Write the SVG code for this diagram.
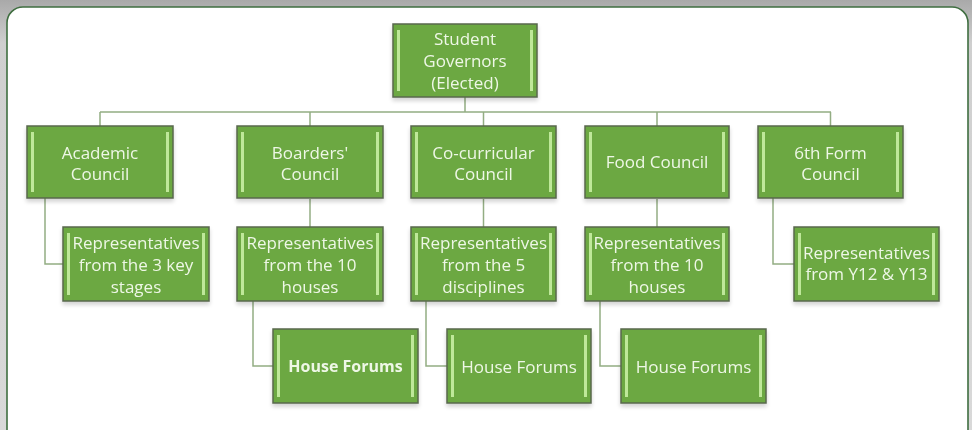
<svg xmlns="http://www.w3.org/2000/svg" width="972" height="430" viewBox="0 0 972 430">
<defs>
<linearGradient id="bg" x1="0" y1="0" x2="0" y2="1">
<stop offset="0" stop-color="#a9a9a9"/>
<stop offset="0.1" stop-color="#cfcfcf"/>
<stop offset="1" stop-color="#d9d9d9"/>
</linearGradient>
<filter id="sh" x="-10%" y="-10%" width="125%" height="130%">
<feGaussianBlur in="SourceAlpha" stdDeviation="2"/>
<feOffset dx="0" dy="3"/>
<feComponentTransfer><feFuncA type="linear" slope="0.18"/></feComponentTransfer>
<feMerge><feMergeNode/><feMergeNode in="SourceGraphic"/></feMerge>
</filter>
</defs>
<style>
.box{fill:#6ca842;stroke:#58684e;stroke-width:1.5}
.bar{fill:#bfe89a}
.t{font-family:"Open Sans","Liberation Sans",sans-serif;font-size:17px;fill:#eef7e6;text-anchor:middle}
.b{font-weight:bold;font-size:16px}
.c{fill:none;stroke:#93ad83;stroke-width:1.5}
</style>
<rect x="0" y="0" width="972" height="430" fill="url(#bg)"/>
<rect x="7" y="7" width="961" height="440" rx="16" ry="16" fill="#ffffff" stroke="#3f6e40" stroke-width="1.6"/>

<g id="connectors">
<path class="c" d="M465 97 V112 M100 112 H831 M100 112 V126 M310 112 V126 M483.5 112 V126 M657 112 V126 M830.5 112 V126"/>
<path class="c" d="M45 198 V264 H63"/>
<path class="c" d="M310 199 V227"/>
<path class="c" d="M483.5 199 V227"/>
<path class="c" d="M657 199 V227"/>
<path class="c" d="M773 198 V264 H794"/>
<path class="c" d="M253 301 V366 H273"/>
<path class="c" d="M426 301 V366 H447"/>
<path class="c" d="M600 301 V366 H621"/>
</g>

<g id="student-governors" filter="url(#sh)">
<rect class="box" x="393" y="24" width="144" height="73"/>
<rect class="bar" x="397" y="30" width="3" height="61"/>
<rect class="bar" x="530" y="30" width="3" height="61"/>
<text class="t" x="465" y="45">Student</text>
<text class="t" x="465" y="67">Governors</text>
<text class="t" x="465" y="89">(Elected)</text>
</g>

<g id="academic-council" filter="url(#sh)">
<rect class="box" x="27" y="126" width="146" height="72"/>
<rect class="bar" x="31" y="132" width="3" height="60"/>
<rect class="bar" x="166" y="132" width="3" height="60"/>
<text class="t" x="100" y="158.5">Academic</text>
<text class="t" x="100" y="179.5">Council</text>
</g>

<g id="boarders-council" filter="url(#sh)">
<rect class="box" x="237" y="126" width="146" height="72"/>
<rect class="bar" x="241" y="132" width="3" height="60"/>
<rect class="bar" x="376" y="132" width="3" height="60"/>
<text class="t" x="310" y="158.5">Boarders'</text>
<text class="t" x="310" y="179.5">Council</text>
</g>

<g id="cocurricular-council" filter="url(#sh)">
<rect class="box" x="411" y="126" width="145" height="72"/>
<rect class="bar" x="415" y="132" width="3" height="60"/>
<rect class="bar" x="549" y="132" width="3" height="60"/>
<text class="t" x="483.5" y="158.5">Co-curricular</text>
<text class="t" x="483.5" y="179.5">Council</text>
</g>

<g id="food-council" filter="url(#sh)">
<rect class="box" x="585" y="126" width="144" height="72"/>
<rect class="bar" x="589" y="132" width="3" height="60"/>
<rect class="bar" x="722" y="132" width="3" height="60"/>
<text class="t" x="657" y="168">Food Council</text>
</g>

<g id="sixth-form-council" filter="url(#sh)">
<rect class="box" x="758" y="126" width="145" height="72"/>
<rect class="bar" x="762" y="132" width="3" height="60"/>
<rect class="bar" x="896" y="132" width="3" height="60"/>
<text class="t" x="830.5" y="158.5">6th Form</text>
<text class="t" x="830.5" y="179.5">Council</text>
</g>

<g id="rep-academic" filter="url(#sh)">
<rect class="box" x="63" y="227" width="146" height="74"/>
<rect class="bar" x="67" y="233" width="3" height="62"/>
<rect class="bar" x="202" y="233" width="3" height="62"/>
<text class="t" x="136" y="249">Representatives</text>
<text class="t" x="136" y="271">from the 3 key</text>
<text class="t" x="136" y="293">stages</text>
</g>

<g id="rep-boarders" filter="url(#sh)">
<rect class="box" x="237" y="227" width="146" height="74"/>
<rect class="bar" x="241" y="233" width="3" height="62"/>
<rect class="bar" x="376" y="233" width="3" height="62"/>
<text class="t" x="310" y="249">Representatives</text>
<text class="t" x="310" y="271">from the 10</text>
<text class="t" x="310" y="293">houses</text>
</g>

<g id="rep-cocurricular" filter="url(#sh)">
<rect class="box" x="411" y="227" width="145" height="74"/>
<rect class="bar" x="415" y="233" width="3" height="62"/>
<rect class="bar" x="549" y="233" width="3" height="62"/>
<text class="t" x="483.5" y="249">Representatives</text>
<text class="t" x="483.5" y="271">from the 5</text>
<text class="t" x="483.5" y="293">disciplines</text>
</g>

<g id="rep-food" filter="url(#sh)">
<rect class="box" x="585" y="227" width="144" height="74"/>
<rect class="bar" x="589" y="233" width="3" height="62"/>
<rect class="bar" x="722" y="233" width="3" height="62"/>
<text class="t" x="657" y="249">Representatives</text>
<text class="t" x="657" y="271">from the 10</text>
<text class="t" x="657" y="293">houses</text>
</g>

<g id="rep-sixth" filter="url(#sh)">
<rect class="box" x="794" y="227" width="145" height="74"/>
<rect class="bar" x="798" y="233" width="3" height="62"/>
<rect class="bar" x="932" y="233" width="3" height="62"/>
<text class="t" x="866.5" y="259">Representatives</text>
<text class="t" x="866.5" y="280">from Y12 &amp; Y13</text>
</g>

<g id="house-forums-1" filter="url(#sh)">
<rect class="box" x="273" y="329" width="145" height="74"/>
<rect class="bar" x="277" y="335" width="3" height="62"/>
<rect class="bar" x="411" y="335" width="3" height="62"/>
<text class="t b" x="345.5" y="372">House Forums</text>
</g>

<g id="house-forums-2" filter="url(#sh)">
<rect class="box" x="447" y="329" width="144" height="74"/>
<rect class="bar" x="451" y="335" width="3" height="62"/>
<rect class="bar" x="584" y="335" width="3" height="62"/>
<text class="t" x="519" y="373">House Forums</text>
</g>

<g id="house-forums-3" filter="url(#sh)">
<rect class="box" x="621" y="329" width="145" height="74"/>
<rect class="bar" x="625" y="335" width="3" height="62"/>
<rect class="bar" x="759" y="335" width="3" height="62"/>
<text class="t" x="693.5" y="373">House Forums</text>
</g>
</svg>
